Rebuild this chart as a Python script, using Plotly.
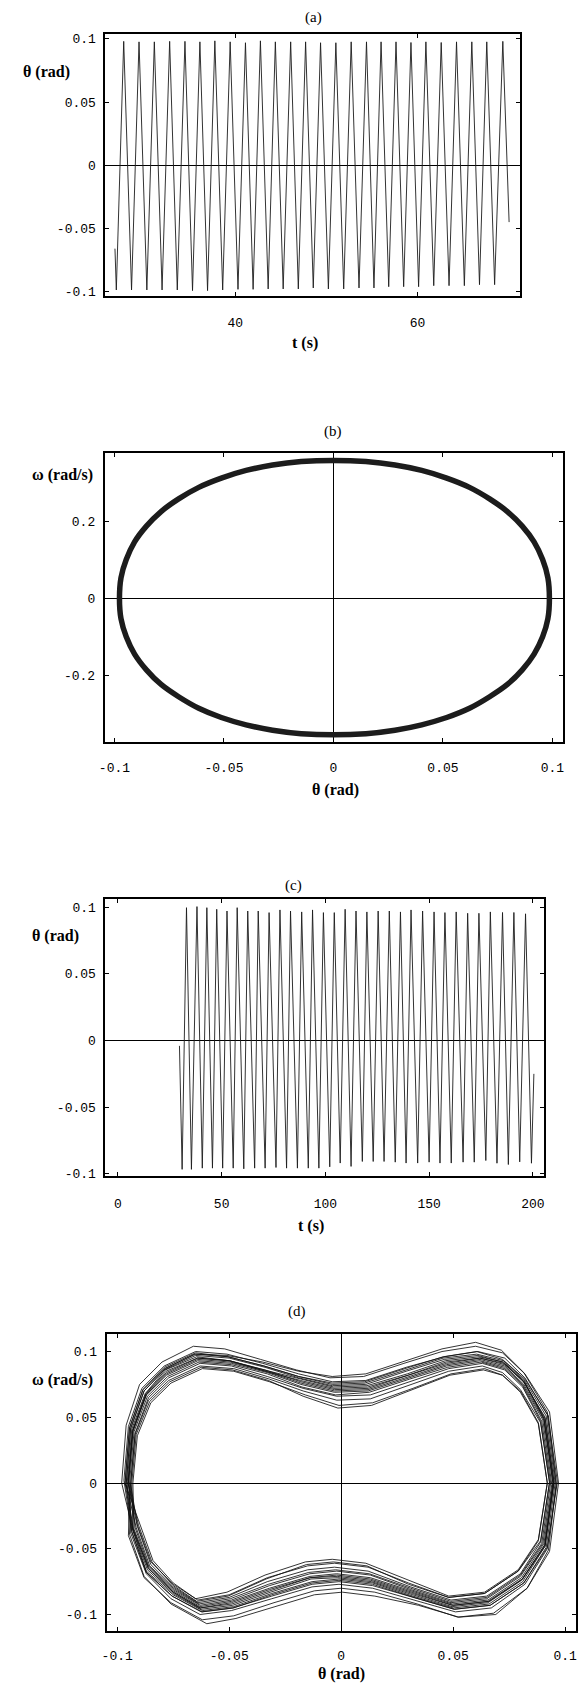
import plotly.graph_objects as go

W, H = 581, 1690

# ---------------- Panel (a): theta vs t ----------------
a_start = (26.80, -0.066)
a_end = (70.05, -0.045)
a_trough_t = [26.95, 28.62, 30.30, 31.97, 33.64, 35.31, 36.96, 38.62, 40.30, 41.96, 43.61, 45.26, 46.92,
              48.56, 50.22, 51.90, 53.58, 55.22, 56.84, 58.48, 60.12, 61.78, 63.46, 65.14, 66.80, 68.46]
a_trough_v = [-0.0987, -0.0987, -0.0987, -0.0987, -0.0987, -0.0992, -0.0992, -0.0987, -0.0982, -0.0982,
              -0.0979, -0.0979, -0.0979, -0.0971, -0.0979, -0.0979, -0.0971, -0.0971, -0.0961, -0.0961,
              -0.0961, -0.0953, -0.0953, -0.0953, -0.0945, -0.0945]
a_peak_t = [27.76, 29.44, 31.12, 32.80, 34.48, 36.12, 37.76, 39.44, 41.12, 42.76, 44.40, 46.08, 47.72,
            49.36, 51.04, 52.72, 54.40, 56.00, 57.64, 59.28, 60.92, 62.60, 64.28, 65.96, 67.60, 69.36]
a_peak_v = [0.0980, 0.0976, 0.0976, 0.0980, 0.0980, 0.0976, 0.0984, 0.0976, 0.0969, 0.0984, 0.0976, 0.0976,
            0.0976, 0.0969, 0.0969, 0.0976, 0.0976, 0.0976, 0.0976, 0.0971, 0.0976, 0.0971, 0.0976, 0.0976,
            0.0976, 0.0980]

# ---------------- Panel (b): phase portrait (ellipse) ----------------
b_theta = [-0.0977, -0.0970, -0.0946, -0.0908, -0.0854, -0.0787, -0.0707, -0.0615, -0.0512, -0.0399,
           -0.0278, -0.0147, 0.0, 0.0148, 0.0281, 0.0403, 0.0517, 0.0621, 0.0713, 0.0794, 0.0862, 0.0916,
           0.0955, 0.0979, 0.0986,
           0.0979, 0.0955, 0.0916, 0.0862, 0.0794, 0.0713, 0.0621, 0.0517, 0.0403, 0.0281, 0.0148, 0.0,
           -0.0147, -0.0278, -0.0399, -0.0512, -0.0615, -0.0707, -0.0787, -0.0854, -0.0908, -0.0946,
           -0.0970, -0.0977]
b_omega = [0.0, 0.054, 0.101, 0.147, 0.188, 0.226, 0.259, 0.289, 0.313, 0.333,
           0.347, 0.356, 0.359, 0.356, 0.347, 0.333, 0.313, 0.289, 0.259, 0.226, 0.188, 0.147,
           0.101, 0.054, 0.0,
           -0.053, -0.100, -0.145, -0.186, -0.224, -0.256, -0.286, -0.310, -0.329, -0.343, -0.352, -0.355,
           -0.352, -0.343, -0.329, -0.310, -0.286, -0.256, -0.224, -0.186, -0.145, -0.100,
           -0.053, 0.0]

# ---------------- Panel (c): theta vs t (long run) ----------------
c_start = (29.66, -0.004)
c_end = (200.5, -0.025)
c_trough_t = [30.95, 35.43, 40.67, 45.57, 50.48, 55.57, 60.67, 65.90, 70.95, 76.19, 81.29, 86.52, 91.76,
              96.86, 102.10, 107.14, 112.38, 117.81, 123.05, 128.29, 133.67, 138.90, 144.48, 150.00,
              155.24, 160.67, 166.38, 171.76, 177.33, 182.71, 188.19, 193.67, 199.33]
c_trough_v = [-0.0966, -0.0966, -0.0957, -0.0957, -0.0957, -0.0957, -0.0962, -0.0957, -0.0957, -0.0952,
              -0.0957, -0.0957, -0.0957, -0.0957, -0.0947, -0.0919, -0.0944, -0.0907, -0.0907, -0.0907,
              -0.0912, -0.0919, -0.0919, -0.0912, -0.0919, -0.0919, -0.0912, -0.0912, -0.0900, -0.0920,
              -0.0930, -0.0910, -0.0920]
c_peak_t = [33.05, 38.10, 42.86, 47.62, 52.57, 57.48, 62.57, 67.62, 72.86, 78.10, 83.19, 88.57, 93.81,
            99.05, 104.29, 109.52, 114.76, 120.00, 125.43, 130.81, 136.19, 141.29, 146.86, 152.38,
            157.62, 163.05, 168.57, 174.00, 179.52, 185.38, 190.86, 196.48]
c_peak_v = [0.0996, 0.1004, 0.0996, 0.0984, 0.0971, 0.0996, 0.0971, 0.0971, 0.0959, 0.0979, 0.0971, 0.0964,
            0.0979, 0.0959, 0.0959, 0.0984, 0.0971, 0.0964, 0.0971, 0.0971, 0.0964, 0.0979, 0.0971, 0.0964,
            0.0959, 0.0964, 0.0954, 0.0954, 0.0964, 0.0960, 0.0960, 0.0950]

# ---------------- Panel (d): phase portrait (multi-loop trajectory) ----------------
d_theta_1 = [-0.098, -0.096, -0.090, -0.080, -0.066, -0.052, -0.036, -0.020, -0.005, 0.010, 0.028, 0.045, 0.060, 0.072, 0.082, 0.093, 0.097, 0.093, 0.083, 0.068, 0.052, 0.034, 0.015, 0.000, -0.012, -0.030, -0.048, -0.062, -0.076, -0.088, -0.095]
d_omega_1 = [0.000, 0.044, 0.075, 0.092, 0.104, 0.102, 0.094, 0.086, 0.080, 0.081, 0.091, 0.100, 0.104, 0.099, 0.083, 0.054, 0.000, -0.052, -0.080, -0.099, -0.102, -0.092, -0.083, -0.080, -0.082, -0.091, -0.101, -0.104, -0.091, -0.072, -0.040]
d_theta_2 = [-0.097, -0.095, -0.089, -0.079, -0.065, -0.051, -0.035, -0.019, -0.004, 0.011, 0.029, 0.046, 0.061, 0.073, 0.082, 0.092, 0.096, 0.092, 0.082, 0.067, 0.051, 0.033, 0.014, -0.001, -0.013, -0.031, -0.049, -0.063, -0.076, -0.087, -0.094]
d_omega_2 = [0.002, 0.043, 0.072, 0.089, 0.100, 0.098, 0.091, 0.083, 0.077, 0.078, 0.088, 0.096, 0.100, 0.095, 0.080, 0.052, -0.002, -0.050, -0.077, -0.095, -0.098, -0.089, -0.080, -0.077, -0.079, -0.088, -0.097, -0.100, -0.088, -0.069, -0.038]
d_theta_3 = [-0.096, -0.094, -0.088, -0.079, -0.065, -0.050, -0.034, -0.019, -0.004, 0.011, 0.029, 0.046, 0.061, 0.072, 0.081, 0.091, 0.095, 0.091, 0.081, 0.066, 0.050, 0.032, 0.014, -0.001, -0.013, -0.031, -0.048, -0.062, -0.075, -0.087, -0.093]
d_omega_3 = [-0.001, 0.041, 0.070, 0.086, 0.097, 0.095, 0.088, 0.080, 0.074, 0.075, 0.085, 0.094, 0.097, 0.092, 0.078, 0.050, 0.001, -0.048, -0.075, -0.092, -0.095, -0.086, -0.076, -0.073, -0.075, -0.084, -0.094, -0.097, -0.085, -0.067, -0.036]
d_theta_4 = [-0.095, -0.093, -0.087, -0.078, -0.064, -0.050, -0.034, -0.018, -0.003, 0.012, 0.030, 0.047, 0.062, 0.073, 0.082, 0.091, 0.095, 0.091, 0.081, 0.066, 0.050, 0.032, 0.013, -0.002, -0.014, -0.032, -0.049, -0.063, -0.075, -0.086, -0.093]
d_omega_4 = [0.000, 0.040, 0.068, 0.084, 0.095, 0.093, 0.086, 0.077, 0.071, 0.072, 0.082, 0.091, 0.095, 0.090, 0.076, 0.049, 0.000, -0.047, -0.073, -0.090, -0.093, -0.083, -0.073, -0.070, -0.072, -0.081, -0.091, -0.095, -0.083, -0.065, -0.035]
d_theta_5 = [-0.095, -0.093, -0.087, -0.078, -0.064, -0.049, -0.033, -0.018, -0.003, 0.012, 0.030, 0.047, 0.062, 0.073, 0.081, 0.090, 0.094, 0.090, 0.080, 0.065, 0.049, 0.031, 0.013, -0.002, -0.014, -0.032, -0.049, -0.063, -0.075, -0.086, -0.092]
d_omega_5 = [0.001, 0.039, 0.067, 0.082, 0.093, 0.091, 0.084, 0.075, 0.069, 0.070, 0.080, 0.089, 0.093, 0.088, 0.075, 0.048, -0.001, -0.046, -0.071, -0.088, -0.091, -0.081, -0.070, -0.067, -0.069, -0.078, -0.089, -0.093, -0.081, -0.063, -0.034]
d_theta_6 = [-0.094, -0.092, -0.086, -0.077, -0.063, -0.049, -0.033, -0.017, -0.002, 0.013, 0.031, 0.048, 0.063, 0.073, 0.081, 0.089, 0.093, 0.089, 0.080, 0.065, 0.049, 0.031, 0.012, -0.003, -0.015, -0.033, -0.050, -0.064, -0.075, -0.085, -0.091]
d_omega_6 = [0.000, 0.038, 0.065, 0.080, 0.091, 0.089, 0.081, 0.072, 0.066, 0.067, 0.077, 0.087, 0.091, 0.086, 0.073, 0.047, 0.000, -0.045, -0.069, -0.086, -0.089, -0.079, -0.067, -0.064, -0.066, -0.075, -0.087, -0.091, -0.079, -0.062, -0.033]
d_theta_7 = [-0.094, -0.092, -0.086, -0.077, -0.063, -0.048, -0.032, -0.017, -0.002, 0.013, 0.031, 0.048, 0.063, 0.072, 0.080, 0.089, 0.093, 0.089, 0.079, 0.064, 0.048, 0.030, 0.012, -0.003, -0.015, -0.033, -0.050, -0.064, -0.075, -0.085, -0.091]
d_omega_7 = [-0.001, 0.037, 0.063, 0.078, 0.089, 0.087, 0.079, 0.070, 0.063, 0.064, 0.075, 0.085, 0.089, 0.084, 0.071, 0.046, 0.001, -0.044, -0.067, -0.084, -0.087, -0.076, -0.064, -0.061, -0.063, -0.072, -0.085, -0.089, -0.077, -0.060, -0.032]
d_theta_8 = [-0.093, -0.091, -0.085, -0.076, -0.062, -0.048, -0.032, -0.016, -0.001, 0.014, 0.032, 0.049, 0.064, 0.072, 0.080, 0.088, 0.092, 0.088, 0.079, 0.064, 0.048, 0.030, 0.011, -0.004, -0.016, -0.034, -0.051, -0.065, -0.075, -0.084, -0.090]
d_omega_8 = [0.000, 0.036, 0.061, 0.076, 0.087, 0.085, 0.077, 0.067, 0.059, 0.061, 0.072, 0.083, 0.087, 0.082, 0.069, 0.045, 0.000, -0.043, -0.066, -0.083, -0.086, -0.074, -0.061, -0.058, -0.060, -0.070, -0.083, -0.088, -0.076, -0.059, -0.031]
d_theta_9 = [-0.0955, -0.0935, -0.0875, -0.0785, -0.0645, -0.0500, -0.0345, -0.0185, -0.0035, 0.0115, 0.0295, 0.0465, 0.0615, 0.0725, 0.0815, 0.0905, 0.0945, 0.0910, 0.0805, 0.0655, 0.0495, 0.0320, 0.0135, -0.0015, -0.0135, -0.0315, -0.0485, -0.0625, -0.0750, -0.0865, -0.0930]
d_omega_9 = [0.001, 0.041, 0.068, 0.086, 0.096, 0.093, 0.086, 0.079, 0.073, 0.074, 0.083, 0.093, 0.096, 0.092, 0.078, 0.049, 0.000, -0.048, -0.074, -0.091, -0.094, -0.085, -0.075, -0.072, -0.073, -0.083, -0.093, -0.096, -0.084, -0.066, -0.036]
d_theta_10 = [-0.0950, -0.0930, -0.0870, -0.0780, -0.0640, -0.0495, -0.0335, -0.0180, -0.0030, 0.0120, 0.0300, 0.0470, 0.0620, 0.0730, 0.0815, 0.0905, 0.0945, 0.0905, 0.0805, 0.0655, 0.0495, 0.0315, 0.0130, -0.0020, -0.0140, -0.0320, -0.0490, -0.0630, -0.0750, -0.0860, -0.0925]
d_omega_10 = [0.000, 0.040, 0.067, 0.083, 0.094, 0.092, 0.085, 0.076, 0.070, 0.071, 0.081, 0.090, 0.094, 0.089, 0.075, 0.048, 0.000, -0.046, -0.072, -0.089, -0.092, -0.082, -0.072, -0.069, -0.071, -0.080, -0.090, -0.094, -0.082, -0.064, -0.035]
d_theta_11 = [-0.0945, -0.0925, -0.0865, -0.0775, -0.0635, -0.0490, -0.0330, -0.0175, -0.0025, 0.0125, 0.0305, 0.0475, 0.0625, 0.0730, 0.0810, 0.0895, 0.0935, 0.0895, 0.0800, 0.0650, 0.0490, 0.0310, 0.0125, -0.0025, -0.0145, -0.0325, -0.0495, -0.0635, -0.0750, -0.0855, -0.0915]
d_omega_11 = [0.000, 0.039, 0.066, 0.081, 0.092, 0.090, 0.083, 0.073, 0.067, 0.069, 0.079, 0.088, 0.092, 0.087, 0.074, 0.047, 0.000, -0.046, -0.070, -0.087, -0.090, -0.080, -0.069, -0.066, -0.068, -0.077, -0.088, -0.092, -0.080, -0.063, -0.034]
d_theta_12 = [-0.0965, -0.0945, -0.0885, -0.0790, -0.0650, -0.0505, -0.0345, -0.0190, -0.0040, 0.0105, 0.0285, 0.0455, 0.0605, 0.0720, 0.0820, 0.0925, 0.0960, 0.0925, 0.0830, 0.0690, 0.0525, 0.0345, 0.0150, 0.0005, -0.0120, -0.0295, -0.0470, -0.0600, -0.0760, -0.0880, -0.0945]
d_omega_12 = [0.000, 0.042, 0.071, 0.088, 0.099, 0.096, 0.089, 0.081, 0.076, 0.077, 0.087, 0.096, 0.100, 0.094, 0.079, 0.051, 0.000, -0.051, -0.080, -0.100, -0.102, -0.093, -0.086, -0.083, -0.085, -0.094, -0.103, -0.107, -0.092, -0.071, -0.039]
d_theta_13 = [-0.0960, -0.0940, -0.0880, -0.0785, -0.0655, -0.0510, -0.0350, -0.0190, -0.0040, 0.0110, 0.0290, 0.0450, 0.0600, 0.0715, 0.0815, 0.0920, 0.0965, 0.0920, 0.0815, 0.0665, 0.0505, 0.0325, 0.0140, -0.0010, -0.0130, -0.0310, -0.0480, -0.0620, -0.0755, -0.0870, -0.0935]
d_omega_13 = [-0.001, 0.042, 0.070, 0.087, 0.098, 0.097, 0.092, 0.085, 0.081, 0.083, 0.093, 0.102, 0.107, 0.101, 0.084, 0.054, 0.001, -0.049, -0.076, -0.093, -0.096, -0.087, -0.077, -0.074, -0.076, -0.085, -0.095, -0.098, -0.086, -0.068, -0.037]
d_theta_14 = [-0.0935, -0.0915, -0.0855, -0.0765, -0.0625, -0.0485, -0.0325, -0.0170, -0.0015, 0.0135, 0.0315, 0.0485, 0.0635, 0.0720, 0.0800, 0.0880, 0.0920, 0.0880, 0.0790, 0.0640, 0.0480, 0.0300, 0.0115, -0.0035, -0.0155, -0.0335, -0.0505, -0.0645, -0.0750, -0.0845, -0.0905]
d_omega_14 = [0.000, 0.037, 0.062, 0.077, 0.088, 0.086, 0.078, 0.066, 0.057, 0.059, 0.071, 0.082, 0.086, 0.082, 0.070, 0.046, 0.000, -0.044, -0.067, -0.084, -0.087, -0.077, -0.063, -0.060, -0.062, -0.073, -0.086, -0.090, -0.078, -0.060, -0.032]
d_theta_15 = [-0.0965, -0.0945, -0.0885, -0.0790, -0.0650, -0.0505, -0.0345, -0.0190, -0.0040, 0.0105, 0.0285, 0.0455, 0.0605, 0.0725, 0.0815, 0.0915, 0.0955, 0.0915, 0.0815, 0.0665, 0.0505, 0.0325, 0.0140, -0.0010, -0.0130, -0.0310, -0.0485, -0.0625, -0.0755, -0.0870, -0.0935]
d_omega_15 = [0.000, 0.042, 0.071, 0.087, 0.098, 0.096, 0.089, 0.081, 0.075, 0.076, 0.086, 0.095, 0.098, 0.093, 0.079, 0.051, 0.000, -0.049, -0.076, -0.093, -0.096, -0.087, -0.078, -0.075, -0.077, -0.086, -0.095, -0.098, -0.086, -0.068, -0.037]
d_theta_16 = [-0.0952, -0.0932, -0.0872, -0.0782, -0.0642, -0.0497, -0.0340, -0.0182, -0.0032, 0.0118, 0.0298, 0.0468, 0.0618, 0.0728, 0.0815, 0.0905, 0.0948, 0.0908, 0.0808, 0.0655, 0.0495, 0.0318, 0.0132, -0.0018, -0.0138, -0.0318, -0.0488, -0.0628, -0.0750, -0.0862, -0.0928]
d_omega_16 = [0.000, 0.040, 0.068, 0.085, 0.095, 0.093, 0.085, 0.078, 0.072, 0.073, 0.082, 0.092, 0.095, 0.091, 0.077, 0.049, 0.000, -0.047, -0.073, -0.090, -0.093, -0.084, -0.074, -0.071, -0.072, -0.082, -0.092, -0.095, -0.083, -0.065, -0.035]

# tick labels
a_xticks = [40, 60]
a_yticks = [-0.1, -0.05, 0, 0.05, 0.1]
a_yticklabels = ["-0.1", "-0.05", "0", "0.05", "0.1"]
b_xticks = [-0.1, -0.05, 0, 0.05, 0.1]
b_xticklabels = ["-0.1", "-0.05", "0", "0.05", "0.1"]
b_yticks = [-0.2, 0, 0.2]
b_yticklabels = ["-0.2", "0", "0.2"]
c_xticks = [0, 50, 100, 150, 200]
c_yticks = a_yticks
c_yticklabels = a_yticklabels
d_xticks = b_xticks
d_xticklabels = b_xticklabels
d_yticks = [-0.1, -0.05, 0, 0.05, 0.1]
d_yticklabels = ["-0.1", "-0.05", "0", "0.05", "0.1"]


def zigzag(start, trough_t, trough_v, peak_t, peak_v, end):
    pts = [start]
    pts += list(zip(trough_t, trough_v))
    pts += list(zip(peak_t, peak_v))
    pts.append(end)
    pts.sort(key=lambda p: p[0])
    return [p[0] for p in pts], [p[1] for p in pts]


ax, ay = zigzag(a_start, a_trough_t, a_trough_v, a_peak_t, a_peak_v, a_end)
cx, cy = zigzag(c_start, c_trough_t, c_trough_v, c_peak_t, c_peak_v, c_end)

loops = [(d_theta_4, d_omega_4), (d_theta_12, d_omega_12), (d_theta_9, d_omega_9), (d_theta_1, d_omega_1),
         (d_theta_6, d_omega_6), (d_theta_16, d_omega_16), (d_theta_3, d_omega_3), (d_theta_14, d_omega_14),
         (d_theta_10, d_omega_10), (d_theta_8, d_omega_8), (d_theta_15, d_omega_15), (d_theta_2, d_omega_2),
         (d_theta_11, d_omega_11), (d_theta_13, d_omega_13), (d_theta_5, d_omega_5), (d_theta_7, d_omega_7)]
dx, dy = [], []
for th, om in loops:
    dx += th
    dy += om
dx.append(loops[-1][0][0])
dy.append(loops[-1][1][0])

LINE = "#1c1c1c"
fig = go.Figure()
fig.add_trace(go.Scatter(x=ax, y=ay, mode="lines", line=dict(color=LINE, width=0.9),
                         xaxis="x", yaxis="y", showlegend=False))
fig.add_trace(go.Scatter(x=b_theta, y=b_omega, mode="lines", line=dict(color=LINE, width=5.5, shape="spline"),
                         xaxis="x2", yaxis="y2", showlegend=False))
fig.add_trace(go.Scatter(x=cx, y=cy, mode="lines", line=dict(color=LINE, width=0.9),
                         xaxis="x3", yaxis="y3", showlegend=False))
fig.add_trace(go.Scatter(x=dx, y=dy, mode="lines", line=dict(color="#111111", width=0.85),
                         xaxis="x4", yaxis="y4", showlegend=False))

TICKFONT = dict(family="Liberation Mono, Courier New, monospace", size=13, color="black")


def xdom(l, r):
    return [l / W, r / W]


def ydom(top, bottom):
    return [1 - bottom / H, 1 - top / H]


def axis(dom, rng, tickvals, ticktext, anchor, zeroline, standoff):
    return dict(domain=dom, range=rng, tickvals=tickvals, ticktext=ticktext, anchor=anchor,
                showgrid=False, zeroline=zeroline, zerolinecolor="black", zerolinewidth=0.8,
                showline=True, linecolor="black", linewidth=2, mirror="ticks",
                ticks="inside", ticklen=4, tickcolor="black", tickwidth=1,
                tickfont=TICKFONT, ticklabelstandoff=standoff, fixedrange=True)


fig.update_layout(
    width=W, height=H, margin=dict(l=0, r=0, t=0, b=0),
    paper_bgcolor="white", plot_bgcolor="white", showlegend=False,
    xaxis=axis(xdom(100.7, 520.4), [25.76, 71.26], a_xticks, [str(v) for v in a_xticks], "y", False, 13),
    yaxis=axis(ydom(32.3, 295.7), [-0.1037, 0.1037], a_yticks, a_yticklabels, "x", True, 5),
    xaxis2=axis(xdom(100.0, 564.0), [-0.1044, 0.1049], b_xticks, b_xticklabels, "y2", True, 12),
    yaxis2=axis(ydom(453.3, 744.0), [-0.375, 0.378], b_yticks, b_yticklabels, "x2", True, 5),
    xaxis3=axis(xdom(100.7, 544.4), [-6.0, 205.3], c_xticks, [str(v) for v in c_xticks], "y3", False, 14),
    yaxis3=axis(ydom(901.0, 1180.0), [-0.1019, 0.1063], c_yticks, c_yticklabels, "x3", True, 5),
    xaxis4=axis(xdom(101.9, 576.7), [-0.1047, 0.1047], d_xticks, d_xticklabels, "y4", True, 11),
    yaxis4=axis(ydom(1338.5, 1636.7), [-0.1125, 0.1132], d_yticks, d_yticklabels, "x4", True, 5),
)

SERIF = "Liberation Serif, Times New Roman, serif"
texts = [
    ("(a)", 311, 16, False, 15), ("θ (rad)", 41, 70, True, 16), ("t (s)", 303, 343, True, 16),
    ("(b)", 331, 432, False, 15), ("ω (rad/s)", 57, 475, True, 16), ("θ (rad)", 334, 792, True, 16),
    ("(c)", 291, 888, False, 15), ("θ (rad)", 50, 938, True, 16), ("t (s)", 309, 1230, True, 16),
    ("(d)", 295, 1316, False, 15), ("ω (rad/s)", 57, 1385, True, 16), ("θ (rad)", 340, 1680, True, 16),
]
for txt, x, y, bold, size in texts:
    fig.add_annotation(text=f"<b>{txt}</b>" if bold else txt, x=x / W, y=1 - y / H,
                       xref="paper", yref="paper", xanchor="center", yanchor="middle",
                       showarrow=False, font=dict(family=SERIF, size=size, color="black"))

fig.write_html("out.html")
